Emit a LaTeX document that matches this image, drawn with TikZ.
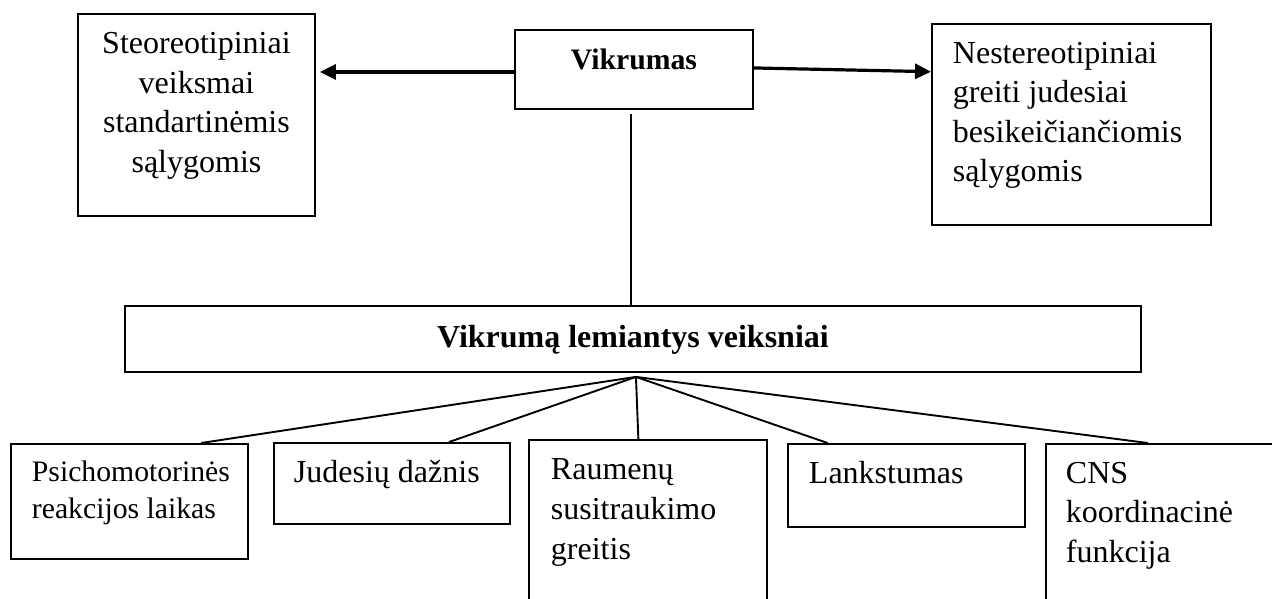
\documentclass[tikz,border=0pt]{standalone}
\usepackage{fontspec}
\setmainfont{Liberation Serif}
\usepackage{tikz}
\usetikzlibrary{arrows.meta,positioning,calc}
\lefthyphenmin=64
\newcommand{\bodysz}{\fontsize{32}{39.6}\selectfont}
\newcommand{\smallsz}{\fontsize{29.7}{36.8}\selectfont}
\newcommand{\boxtext}[3]{\parbox[t][#1][t]{#2}{#3}}
\tikzset{
    basebox/.style={
        draw,
        line width=1.9pt,
        inner sep=0pt,
        anchor=north west,
        font=\bodysz
    },
    link/.style={
        line width=1.9pt
    },
    arrowline/.style={
        -{Triangle[length=16pt,width=15pt]},
        line width=3.2pt
    }
}

\begin{document}
\begin{tikzpicture}[x=1pt,y=-1pt]
    \path[use as bounding box, clip] (0,0) rectangle (1272,598);

    % Top row
    \node[basebox, inner xsep=10pt, inner ysep=18.5pt] (stereo) at (77,13)
        {\boxtext{165pt}{217pt}{\centering Steoreotipiniai\\veiksmai\\standartinėmis\\sąlygomis}};
    \node[basebox, inner xsep=0pt, inner ysep=19pt] (vikr) at (514,29)
        {\boxtext{41pt}{238pt}{\centering\smallsz\bfseries Vikrumas}};
    \node[basebox, inner xsep=21pt, inner ysep=18pt] (nestereo) at (931,23)
        {\boxtext{165pt}{237pt}{\raggedright Nestereotipiniai\\greiti judesiai\\besikeičiančiomis\\sąlygomis}};

    % Arrows to both kinds of actions
    \draw[arrowline, shorten >=4pt] ([yshift=-2.5pt]vikr.west) -- ([yshift=-2.5pt]vikr.west -| stereo.east);
    \draw[arrowline] ([yshift=1.5pt]vikr.east) -- ($(nestereo.north west)!0.24!(nestereo.south west)$);

    % Factors box
    \node[basebox, inner xsep=0pt, inner ysep=19pt] (factors) at (124,305)
        {\boxtext{28pt}{1016pt}{\centering\bfseries Vikrumą lemiantys veiksniai}};
    \draw[link] ([xshift=-3pt,yshift=-4pt]vikr.south) -- ([xshift=-3pt]vikr.south |- factors.north);

    % Bottom row
    \node[basebox, inner xsep=21pt, inner ysep=17pt] (psich) at (10,443)
        {\boxtext{81pt}{195pt}{\raggedright\smallsz Psichomotorinės\\reakcijos laikas}};
    \node[basebox, inner xsep=20pt, inner ysep=17pt] (judes) at (273,442)
        {\boxtext{47pt}{196pt}{\raggedright Judesių dažnis}};
    \node[basebox, inner xsep=22pt, inner ysep=19pt] (raum) at (528,439)
        {\boxtext{143pt}{194pt}{\raggedright Raumenų\\susitraukimo\\greitis}};
    \node[basebox, inner xsep=21pt, inner ysep=17.5pt] (lankst) at (787,443)
        {\boxtext{48pt}{195pt}{\raggedright Lankstumas}};
    \node[basebox, inner xsep=20pt, inner ysep=18pt] (cns) at (1045,443)
        {\boxtext{144pt}{197pt}{\raggedright CNS\\koordinacinė\\funkcija}};

    % Fan of links
    \coordinate (hub) at ([xshift=3pt,yshift=-4pt]factors.south);
    \draw[link] (hub) -- ($(psich.north west)!0.80!(psich.north east)$);
    \draw[link] (hub) -- ($(judes.north west)!0.74!(judes.north east)$);
    \draw[link] (hub) -- ($(raum.north west)!0.46!(raum.north east)$);
    \draw[link] (hub) -- ($(lankst.north west)!0.17!(lankst.north east)$);
    \draw[link] (hub) -- ($(cns.north west)!0.43!(cns.north east)$);
\end{tikzpicture}
\end{document}
